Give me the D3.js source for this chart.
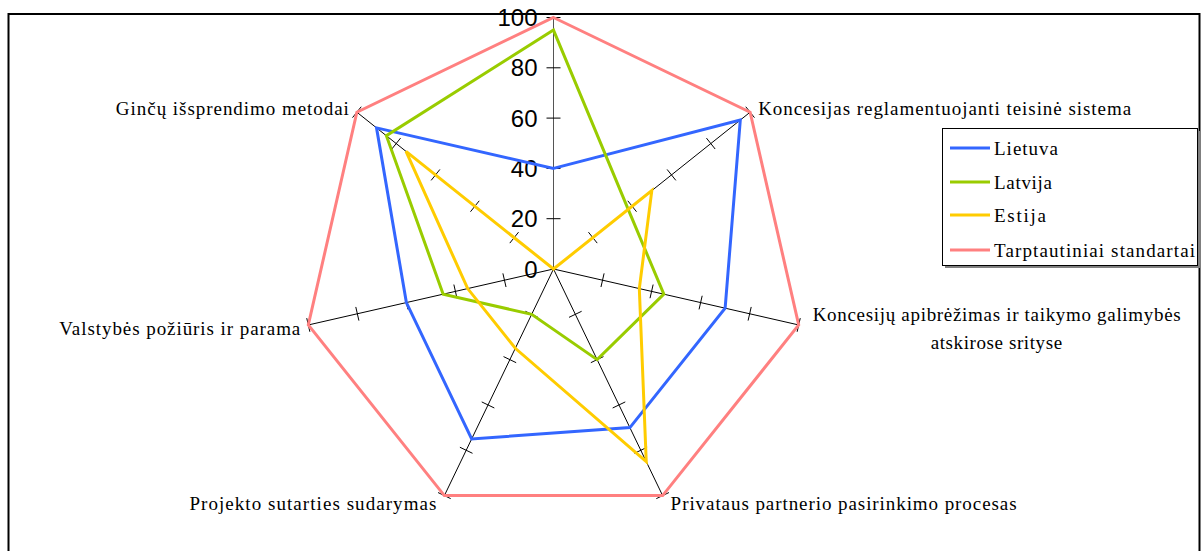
<!DOCTYPE html>
<html>
<head>
<meta charset="utf-8">
<script src="https://cdn.jsdelivr.net/npm/d3@7"></script>
<style>
  html, body { margin: 0; padding: 0; background: #fff; }
  svg { display: block; }
</style>
</head>
<body>
<svg id="chart" width="1204" height="551"></svg>
<script>
// Axis names, clockwise from the top spoke
const categories = [
  "",
  "Koncesijas reglamentuojanti teisinė sistema",
  "Koncesijų apibrėžimas ir taikymo galimybės|atskirose srityse",
  "Privataus partnerio pasirinkimo procesas",
  "Projekto sutarties sudarymas",
  "Valstybės požiūris ir parama",
  "Ginčų išsprendimo metodai"
];
const seriesNames = ["Lietuva", "Latvija", "Estija", "Tarptautiniai standartai"];
const lietuva  = [40, 95, 70, 70, 75, 60, 90];
const latvija  = [95, 38, 45, 40, 20, 45, 85];
const estija   = [0, 50, 35, 85, 35, 35, 75];
const standartai = [100, 100, 100, 100, 100, 100, 100];
const tickValues = [0, 20, 40, 60, 80, 100];

const seriesValues = [lietuva, latvija, estija, standartai];
const colors = ["#3366ff", "#99cc00", "#ffcc00", "#ff8080"];

const svg = d3.select("#chart");
const cx = 553.5, cy = 269, R = 251.5;
const r = d3.scaleLinear().domain([0, 100]).range([0, R]);
const n = categories.length;
const angle = d3.scalePoint().domain(d3.range(n + 1)).range([0, 2 * Math.PI]);
const ang = i => angle(i % n);
const px = (i, v) => cx + r(v) * Math.sin(ang(i));
const py = (i, v) => cy - r(v) * Math.cos(ang(i));

// outer frame
svg.append("rect")
  .attr("x", 8.5).attr("y", 14).attr("width", 1191).attr("height", 600)
  .attr("fill", "none").attr("stroke", "#000").attr("stroke-width", 2);

// spokes
const g = svg.append("g");
d3.range(n).forEach(i => {
  g.append("line")
    .attr("x1", cx).attr("y1", cy)
    .attr("x2", px(i, 100)).attr("y2", py(i, 100))
    .attr("stroke", i === 0 ? "#555" : "#000").attr("stroke-width", 1);
  // cross ticks
  tickValues.forEach(t => {
    if (t === 0) return;
    const a = ang(i), L = 7;
    const x0 = px(i, t), y0 = py(i, t);
    const ux = Math.cos(a), uy = Math.sin(a);
    g.append("line")
      .attr("x1", x0 - ux * L).attr("y1", y0 - uy * L)
      .attr("x2", x0 + ux * L).attr("y2", y0 + uy * L)
      .attr("stroke", "#000").attr("stroke-width", 1);
  });
});

// value labels along the top spoke
g.selectAll("text.tick").data(tickValues).enter().append("text")
  .attr("class", "tick")
  .attr("x", cx - 16).attr("y", d => cy - r(d))
  .attr("dy", "0.36em")
  .attr("text-anchor", "end")
  .attr("font-family", "'Liberation Sans', Arial, sans-serif")
  .attr("font-size", 24)
  .attr("fill", "#000")
  .text(d => d);

// series polygons
const line = d3.lineRadial()
  .angle((d, i) => ang(i))
  .radius(d => r(d))
  .curve(d3.curveLinearClosed);

seriesValues.forEach((vals, k) => {
  svg.append("path")
    .attr("transform", `translate(${cx},${cy})`)
    .attr("d", line(vals))
    .attr("fill", "none")
    .attr("stroke", colors[k])
    .attr("stroke-width", 3)
    .attr("stroke-linejoin", "miter");
});

// category labels
const labelWidths = [0, 373, 368, 346, 247, 241, 233];
const labelFont = "'Liberation Serif', 'Times New Roman', serif";
d3.range(n).forEach(i => {
  if (!categories[i]) return;
  const s = Math.sin(ang(i)), c = Math.cos(ang(i));
  const x = px(i, 100), y = py(i, 100);
  const lines = categories[i].split("|");
  const lh = 28;
  let anchor, tx, ty;
  if (lines.length > 1) {
    anchor = "middle";
    const w = labelWidths[i];
    tx = x + 14 + w / 2;
  } else {
    anchor = s > 0 ? "start" : "end";
    tx = x + (s > 0 ? 8 : -8);
  }
  ty = y + (c < -0.5 ? 8 : (c < 0 ? 3 : -4)) - (lines.length - 1) * lh / 2;
  lines.forEach((t, j) => {
    const el = svg.append("text")
      .attr("x", tx).attr("y", ty + j * lh)
      .attr("dy", "0.35em")
      .attr("text-anchor", anchor)
      .attr("font-family", labelFont)
      .attr("font-size", 19)
      .attr("fill", "#000")
      .text(t);
    if (j === 0) el.attr("textLength", labelWidths[i]).attr("lengthAdjust", "spacing");
    else el.attr("letter-spacing", 0.6);
  });
});

// legend
const lg = svg.append("g");
const lx = 942, ly = 128, lw = 255, lhh = 137;
lg.append("rect").attr("x", lx + 3).attr("y", ly + 3).attr("width", lw).attr("height", lhh)
  .attr("fill", "#808080");
lg.append("rect").attr("x", lx + 0.5).attr("y", ly + 0.5).attr("width", lw).attr("height", lhh)
  .attr("fill", "#fff").attr("stroke", "#000").attr("stroke-width", 1);
const rowY = [148, 182, 215, 250];
const legendWidths = [64, 58, 52, 201];
seriesNames.forEach((name, k) => {
  lg.append("line")
    .attr("x1", 950).attr("x2", 990).attr("y1", rowY[k]).attr("y2", rowY[k])
    .attr("stroke", colors[k]).attr("stroke-width", 3);
  lg.append("text")
    .attr("x", 994).attr("y", rowY[k]).attr("dy", "0.35em")
    .attr("font-family", labelFont).attr("font-size", 19)
    .attr("textLength", legendWidths[k]).attr("lengthAdjust", "spacing")
    .attr("fill", "#000")
    .text(name);
});
</script>
</body>
</html>
